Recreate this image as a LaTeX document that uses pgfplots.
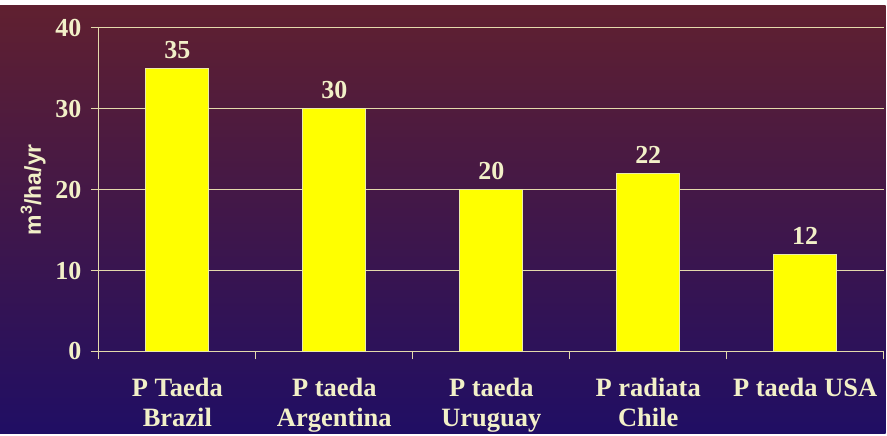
\documentclass[border=0pt]{standalone}
\usepackage{fontspec}
\setmainfont{Liberation Serif}
\newfontfamily\sansf{Liberation Sans}
\usepackage{pgfplots}
\pgfplotsset{compat=1.18}
\definecolor{bgtop}{RGB}{96,32,48}
\definecolor{bgbot}{RGB}{32,14,100}
\definecolor{gridc}{RGB}{228,218,172}
\definecolor{txt}{RGB}{242,240,200}
\definecolor{baredge}{RGB}{235,235,170}
\definecolor{baryel}{RGB}{255,255,0}
\begin{document}
\begin{tikzpicture}[x=1pt,y=1pt]
\fill[white] (0,0) rectangle (887,434);
\shade[top color=bgtop,bottom color=bgbot] (0,0) rectangle (887,428);
\begin{axis}[
  at={(99pt,82pt)}, anchor=south west,
  width=786pt, height=324pt, scale only axis,
  xmin=-0.5, xmax=4.5, ymin=0, ymax=40,
  axis x line*=bottom, axis y line*=left,
  axis line style={gridc, line width=1pt, -},
  ybar, bar width=63pt,
  ytick={0,10,20,30,40},
  ymajorgrids, grid style={gridc, line width=1pt},
  xtick={0,1,2,3,4},
  xticklabels={{P Taeda\\Brazil},{P taeda\\Argentina},{P taeda\\Uruguay},{P radiata\\Chile},{P taeda USA}},
  major x tick style={draw=none},
  extra x ticks={-0.5,0.5,1.5,2.5,3.5,4.5},
  extra x tick labels={},
  extra x tick style={major x tick style={draw=gridc, line width=1pt}},
  tick align=outside, major tick length=8pt,
  tick style={gridc, line width=1pt},
  /pgf/number format/assume math mode=true,
  yticklabel style={font=\fontsize{26}{28}\selectfont\bfseries, text=txt, xshift=-6pt},
  xticklabel style={align=center, font=\fontsize{26.5}{30}\selectfont\bfseries, text=txt, yshift=-15pt},
  ylabel={m\textsuperscript{3}/ha/yr},
  ylabel style={font=\sansf\bfseries\fontsize{23}{28}\selectfont, text=txt, yshift=3pt},
  nodes near coords,
  every node near coord/.append style={font=\fontsize{26}{28}\selectfont\bfseries, text=txt, anchor=south, yshift=6pt},
]
\addplot[fill=baryel, draw=baredge, line width=0.8pt] coordinates {(0,35) (1,30) (2,20) (3,22) (4,12)};
\end{axis}
\end{tikzpicture}
\end{document}
